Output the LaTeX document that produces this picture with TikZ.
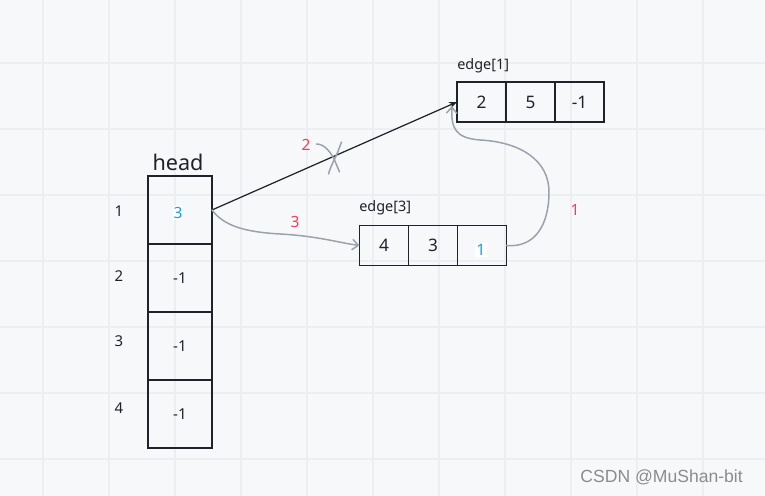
\documentclass[tikz,border=0pt]{standalone}
\usepackage{fontspec}
\setmainfont{Noto Sans}
\newfontfamily\markfont{Liberation Sans}
\usetikzlibrary{arrows.meta,positioning}
\definecolor{bgpaper}{HTML}{F7F8FA}
\definecolor{gridline}{HTML}{ECEEF1}
\definecolor{ink}{HTML}{1F2329}
\definecolor{pencil}{HTML}{9CA2AB}
\definecolor{numred}{HTML}{F23D5C}
\definecolor{numblue}{HTML}{1A9FE0}
\definecolor{stamp}{HTML}{8C8C8C}

\begin{document}
\begin{tikzpicture}[x=0.02cm, y=0.02cm,
    hcell/.style={draw=ink, line width=1.1pt, outer sep=0pt, minimum width=1.28cm, minimum height=1.36cm, font=\fontsize{8.6}{10}\selectfont, text=ink},
    ecell/.style={draw=ink, line width=1.1pt, outer sep=0pt, minimum width=0.98cm, minimum height=0.8cm, font=\fontsize{9.8}{11}\selectfont, text=ink},
    idx/.style={font=\fontsize{8.5}{10}\selectfont, text=ink},
    tag/.style={font=\fontsize{8.2}{9}\selectfont, text=ink, anchor=west, inner sep=0pt},
    weight/.style={font=\fontsize{8.8}{10}\selectfont, text=numred},
    hl/.style={fill=white, inner sep=0.6pt, text=numblue},
    arr/.style={-{Stealth[length=4.5pt,width=3.6pt]}, ink, line width=0.7pt},
    link/.style={pencil, line width=0.85pt, line cap=round},
    barb/.style={-{Straight Barb[length=3.5pt,width=6pt]}}
]
% paper and grid
\fill[bgpaper] (0,0) rectangle (765,-496);
\useasboundingbox (0,0) rectangle (765,-496);
\foreach \gx in {43,109,...,703} \draw[gridline, line width=1.1pt] (\gx,0) -- (\gx,-496);
\foreach \gy in {63,129,...,459} \draw[gridline, line width=1.1pt] (0,-\gy) -- (765,-\gy);

% head array
\node[font=\fontsize{12.3}{15}\selectfont, text=ink] (title) at (178,-162) {head};
\node[hcell] (h1) at (180,-210) {};
\node[hcell, below=0pt of h1] (h2) {-1};
\node[hcell, below=0pt of h2] (h3) {-1};
\node[hcell, below=0pt of h3] (h4) {-1};
\node[hl, font=\fontsize{8.8}{10}\selectfont] (nh) at (178,-213) {3};
\node[idx] (i1) at (119,-211) {1};
\node[idx] (i2) at (119,-276) {2};
\node[idx] (i3) at (119,-341) {3};
\node[idx] (i4) at (119,-408) {4};

% edge[1]
\node[tag] (t1) at (457,-66) {edge[1]};
\node[ecell] (e11) at (481.5,-102) {2};
\node[ecell, right=0pt of e11] (e12) {5};
\node[ecell, right=0pt of e12] (e13) {-1};

% edge[3]
\node[tag] (t3) at (359,-208) {edge[3]};
\node[ecell] (e31) at (384,-245.5) {4};
\node[ecell, right=0pt of e31] (e32) {3};
\node[ecell, right=0pt of e32] (e33) {};
\node[hl, font=\fontsize{9}{11}\selectfont] (nx) at (481,-250) {1};

% links
\draw[arr] (h1.east) -- coordinate[pos=0.5] (cut) (e11.west);
\begin{scope}[shift={(cut)}]
\draw[link] (-18,12) .. controls (-10,12) and (-4,4) .. (0,-4) .. controls (2,-9) and (4,-13) .. (5,-16);
\draw[link] (7,14) .. controls (4,6) and (2,0) .. (-1,-5) .. controls (-3,-10) and (-5,-14) .. (-6,-18);
\end{scope}
\node[weight] (w2) at (306,-145) {2};

\draw[link, barb] (h1.east) .. controls (224,-226) and (245,-232) .. (280,-234)
    .. controls (318,-236) and (340,-243) .. (e31.west);
\node[weight] (w3) at (295,-222) {3};

\coordinate (back) at (452,-106);
\draw[link, barb] (e33.east) .. controls (535,-248) and (549,-225) .. (549,-192)
    .. controls (549,-160) and (520,-142) .. (480,-140)
    .. controls (455,-138) and (451,-128) .. (back);
\node[weight] (w1) at (575,-210) {1};

\node[font=\markfont\fontsize{10}{12}\selectfont, text=stamp, anchor=east] (mark) at (749,-477) {CSDN @MuShan-bit};
\end{tikzpicture}
\end{document}
